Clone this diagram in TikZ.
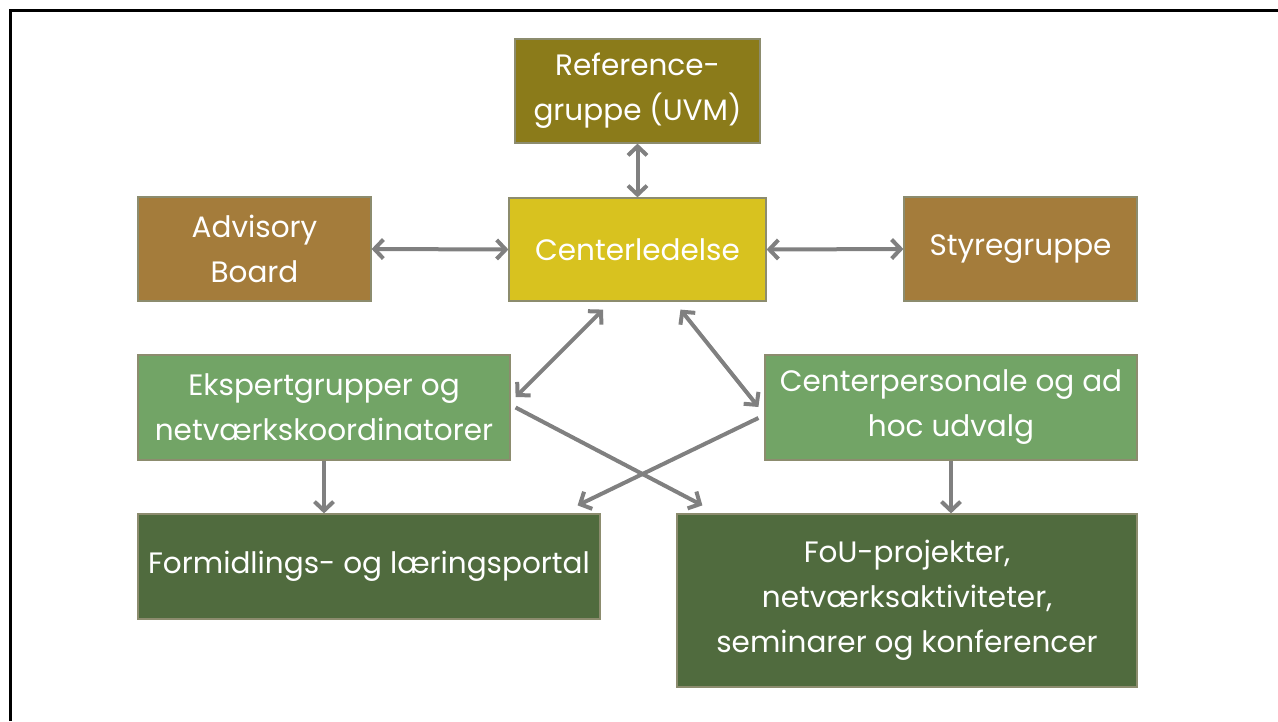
\documentclass[tikz,border=0pt]{standalone}
\usepackage{fontspec}
\setmainfont{Poppins}
\usetikzlibrary{arrows.meta,calc}
\definecolor{oliven}{RGB}{139,123,26}
\definecolor{gul}{RGB}{216,194,31}
\definecolor{brun}{RGB}{164,124,59}
\definecolor{lysgron}{RGB}{114,164,102}
\definecolor{morkgron}{RGB}{80,107,62}
\definecolor{kant}{RGB}{140,140,110}
\definecolor{pil}{RGB}{128,128,128}
\begin{document}
\begin{tikzpicture}[x=1pt,y=-1pt,
  boks/.style={draw=kant,line width=1.2pt,text=white,align=center,inner sep=0pt,
    font=\fontsize{29.5}{45}\selectfont},
  forb/.style={draw=pil,line width=4pt,{Straight Barb[length=9pt,width=19pt]}-{Straight Barb[length=9pt,width=19pt]}},
  enkelt/.style={draw=pil,line width=4pt,-{Straight Barb[length=9pt,width=19pt]}}]
\useasboundingbox (0,0) rectangle (1278,721);
\draw [line width=3pt] (10.5,721)--(10.5,10.5)--(1278,10.5);
% kasser
\node [boks,fill=oliven,minimum width=245pt,minimum height=104pt] (ref) at (637.5,91) {Reference-\\gruppe (UVM)};
\node [boks,fill=gul,minimum width=257pt,minimum height=103pt] (cl) at (637.5,249.5) {Centerledelse};
\node [boks,fill=brun,minimum width=233pt,minimum height=104pt] (adv) at (254.5,249) {Advisory\\Board};
\node [boks,fill=brun,minimum width=233pt,minimum height=104pt] (sty) at (1020.5,249) {Styregruppe};
\node [boks,fill=lysgron,minimum width=372pt,minimum height=105pt] (eks) at (324,407.5) {Ekspertgrupper og\\netværkskoordinatorer};
\node [boks,fill=lysgron,minimum width=372pt,minimum height=105pt] (cp) at (951,407.5) {Centerpersonale og ad\\hoc udvalg};
\node [boks,fill=morkgron,minimum width=462pt,minimum height=105pt] (form) at (369,566.5) {Formidlings- og læringsportal};
\node [boks,fill=morkgron,minimum width=460pt,minimum height=173pt] (fou) at (907,600.5) {FoU-projekter,\\netværksaktiviteter,\\seminarer og konferencer};
% pile
\draw [forb] (ref.south) -- (cl.north);
\draw [forb] (adv.east) -- (cl.west);
\draw [forb] (cl.east) -- (sty.west);
\draw [forb] ($(cl.south)+(-34.5,8)$) -- ($(eks.east)+(5,-10.5)$);
\draw [forb] ($(cl.south)+(43,8)$) -- ($(cp.west)+(-6,-0.5)$);
\draw [enkelt] ($(eks.east)+(5,0)$) -- ($(fou.north west)+(26,-8)$);
\draw [enkelt] ($(cp.west)+(-6,10.5)$) -- ($(form.north east)+(-23,-8)$);
\draw [enkelt] (eks.south) -- (eks.south |- form.north);
\draw [enkelt] (cp.south) -- (cp.south |- fou.north);
\end{tikzpicture}
\end{document}
